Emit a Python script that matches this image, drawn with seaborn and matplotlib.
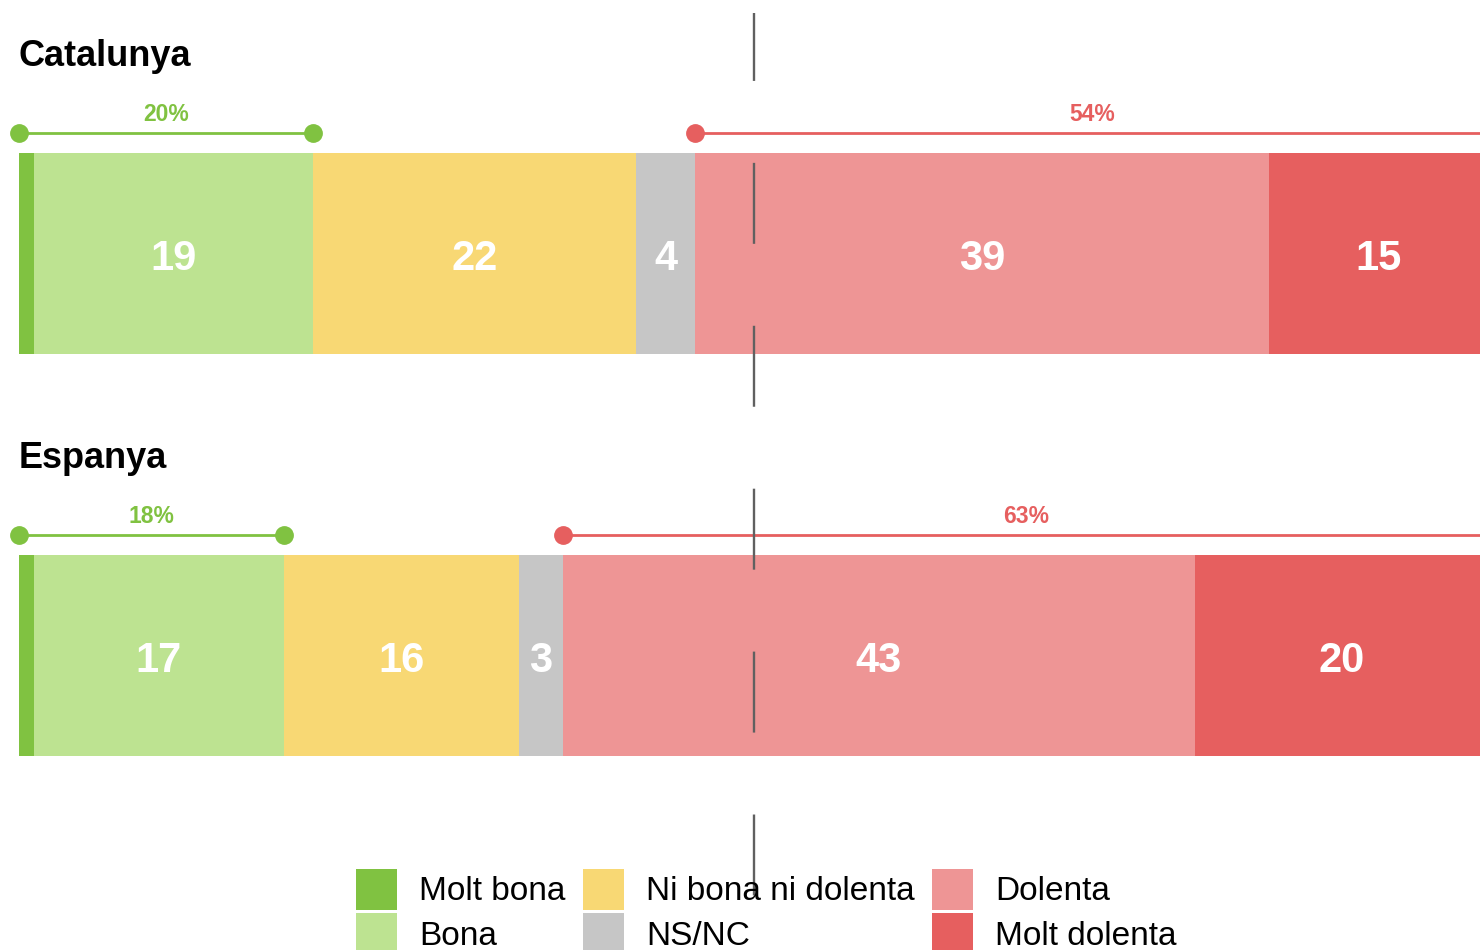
import numpy as np
import pandas as pd
import matplotlib.pyplot as plt
import seaborn as sns
from matplotlib.patches import Patch

regions    = ["Catalunya", "Espanya"]
categories = ["Molt bona", "Bona", "Ni bona ni dolenta", "NS/NC", "Dolenta", "Molt dolenta"]
molt_bona    = [1, 1]
bona         = [19, 17]
ni_bona      = [22, 16]
ns_nc        = [4, 3]
dolenta      = [39, 43]
molt_dolenta = [15, 20]
positives = [20, 18]   # % bona + molt bona
negatives = [54, 63]   # % dolenta + molt dolenta

colors = ["#80c241", "#bde391", "#f8d874", "#c6c6c6", "#ee9595", "#e65f5f"]
green, red = "#80c241", "#e65f5f"

sns.set_style("white")
plt.rcParams["font.family"] = ["Liberation Sans", "DejaVu Sans"]
plt.rcParams["lines.scale_dashes"] = False

values = np.array([molt_bona, bona, ni_bona, ns_nc, dolenta, molt_dolenta])
cum = values.cumsum(axis=0)
df = pd.DataFrame({"region": regions})
for i, cat in enumerate(categories):
    df[cat] = cum[i]

fig = plt.figure(figsize=(14.8, 9.5), dpi=100)
ax = fig.add_axes([0, 0, 1, 1])

# stacked bars: draw cumulative totals from the longest to the shortest
for i in range(len(categories) - 1, -1, -1):
    sns.barplot(data=df, x=categories[i], y="region", orient="h",
                color=colors[i], saturation=1, width=0.5,
                linewidth=0, errorbar=None, ax=ax)

# ── Segment values
for r in range(len(regions)):
    for i in range(1, len(categories)):
        xc = cum[i, r] - values[i, r] / 2
        ax.text(xc, r + 0.015, str(values[i, r]), ha="center", va="center",
                color="white", fontsize=30, fontweight="bold")

    # region title
    ax.text(0, r - 0.49, regions[r], ha="left", va="center",
            fontsize=26, fontweight="bold", color="black")

    # positive bracket
    ax.plot([0, positives[r]], [r - 0.2985, r - 0.2985], color=green,
            lw=2, marker="o", markersize=12.5, solid_capstyle="butt")
    ax.text(positives[r] / 2, r - 0.345, f"{positives[r]}%", ha="center",
            va="center", color=green, fontsize=16.5, fontweight="bold")

    # negative bracket
    x0 = 100 - negatives[r]
    ax.plot([x0, 100], [r - 0.2985, r - 0.2985], color=red,
            lw=2, marker="o", markersize=12.5, solid_capstyle="butt")
    ax.text((x0 + 100) / 2, r - 0.345, f"{negatives[r]}%", ha="center",
            va="center", color=red, fontsize=16.5, fontweight="bold")

px = 14.7
ax.set_xlim(-19 / px, (1480 - 19) / px)
ax.set_ylim((950 - 253) / 402, -253 / 402)
ax.axis("off")

# midline
ax.plot([50, 50], [1 - 13 / 950, 0], transform=ax.get_xaxis_transform(),
        color="#606060", lw=1.7, linestyle=(9.4, (58.3, 59.0)),
        zorder=10, clip_on=False)

handles = [Patch(facecolor=c, edgecolor="none") for c in colors]
fig.legend(handles, categories, ncol=3, loc="upper left",
           bbox_to_anchor=(356 / 1480, 1 - 869 / 950), frameon=False,
           fontsize=24, labelcolor="black", handlelength=1.23,
           handleheight=1.515, handletextpad=0.66, columnspacing=0.53,
           labelspacing=0.1, borderpad=0, borderaxespad=0)

fig.savefig("out.png", dpi=100)
